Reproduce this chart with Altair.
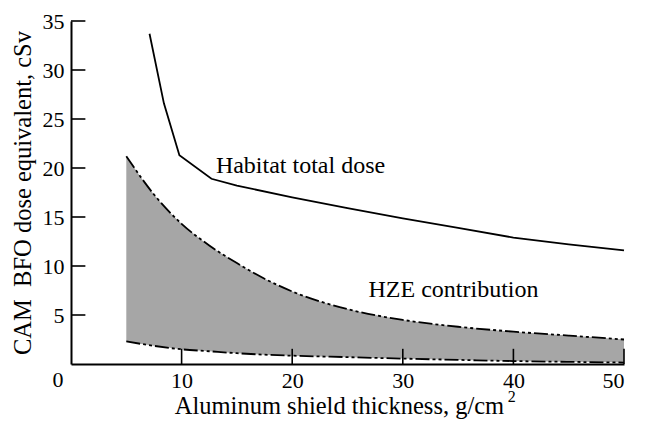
import altair as alt
import pandas as pd

# Habitat total dose curve
habitat_x = [7.1, 8.4, 9.8, 12.7, 15, 20, 25, 30, 35, 40, 45, 50]
habitat_y = [33.7, 26.6, 21.3, 18.9, 18.2, 17.0, 15.9, 14.85, 13.9, 12.9, 12.2, 11.6]

# HZE contribution band
hze_x = [5, 7.5, 10, 12.5, 15, 17.5, 20, 25, 30, 35, 40, 45, 50]
hze_upper = [21.2, 17.3, 14.3, 12.1, 10.3, 8.7, 7.4, 5.6, 4.5, 3.8, 3.3, 2.9, 2.5]
hze_lower = [2.3, 1.85, 1.5, 1.3, 1.1, 0.95, 0.85, 0.7, 0.55, 0.42, 0.3, 0.22, 0.15]

x_ticks = [10, 20, 30, 40, 50]
y_ticks = [5, 10, 15, 20, 25, 30, 35]

labels_text = ["Habitat total dose", "HZE contribution"]
labels_x = [13.1, 26.9]
labels_y = [19.5, 6.8]

FONT = "Liberation Serif"

df_h = pd.DataFrame({"x": habitat_x, "y": habitat_y})
df_z = pd.DataFrame({"x": hze_x, "upper": hze_upper, "lower": hze_lower})
df_xt = pd.DataFrame({"x": x_ticks})
df_yt = pd.DataFrame({"y": y_ticks})
df_lab = pd.DataFrame({"text": labels_text, "x": labels_x, "y": labels_y})

xs = alt.Scale(domain=[0, 50], nice=False, zero=False)
ys = alt.Scale(domain=[0, 35], nice=False)

xaxis = alt.Axis(values=x_ticks, tickSize=0, domainColor="black", domainWidth=2,
                 labelFont=FONT, labelFontSize=22, labelColor="black", labelPadding=6,
                 title="Aluminum shield thickness, g/cm", titleFont=FONT, titleFontSize=24.5,
                 titleFontWeight="normal", titleColor="black", titlePadding=3,
                 titleX=268, titleAlign="center", grid=False)
yaxis = alt.Axis(values=y_ticks, tickSize=0, domainColor="black", domainWidth=2,
                 labelFont=FONT, labelFontSize=22, labelColor="black", labelPadding=7,
                 title="CAM\u00a0 BFO dose equivalent, cSv", titleFont=FONT, titleFontSize=24.5,
                 titleFontWeight="normal", titleColor="black", titlePadding=7, grid=False)

area = alt.Chart(df_z).mark_area(color="#a6a6a6", interpolate="monotone").encode(
    x=alt.X("x:Q", scale=xs, axis=xaxis),
    y=alt.Y("upper:Q", scale=ys, axis=yaxis),
    y2="lower:Q",
)

dash = [14, 3, 3, 3, 3, 3]
upper_line = alt.Chart(df_z).mark_line(color="black", strokeWidth=1.8, strokeDash=dash,
                                       interpolate="monotone").encode(
    x=alt.X("x:Q", scale=xs), y=alt.Y("upper:Q", scale=ys))
lower_line = alt.Chart(df_z).mark_line(color="black", strokeWidth=1.8, strokeDash=dash,
                                       interpolate="monotone").encode(
    x=alt.X("x:Q", scale=xs), y=alt.Y("lower:Q", scale=ys))

habitat = alt.Chart(df_h).mark_line(color="black", strokeWidth=1.8).encode(
    x=alt.X("x:Q", scale=xs), y=alt.Y("y:Q", scale=ys))

xt = alt.Chart(df_xt).mark_rule(color="black", strokeWidth=1.6).encode(
    x=alt.X("x:Q", scale=xs), y=alt.datum(0), y2=alt.datum(1.55))
yt = alt.Chart(df_yt).mark_rule(color="black", strokeWidth=1.6).encode(
    y=alt.Y("y:Q", scale=ys), x=alt.datum(0), x2=alt.datum(1.3))

labels = alt.Chart(df_lab).mark_text(font=FONT, fontSize=24, align="left",
                                      baseline="alphabetic", color="black").encode(
    x=alt.X("x:Q", scale=xs), y=alt.Y("y:Q", scale=ys), text="text:N")

zero = alt.Chart(pd.DataFrame({"t": ["0"]})).mark_text(
    font=FONT, fontSize=22, align="center", baseline="top", color="black", dx=-13, dy=6
).encode(x=alt.datum(0), y=alt.datum(0), text="t:N")

sup = alt.Chart(pd.DataFrame({"t": ["2"]})).mark_text(
    font=FONT, fontSize=16, align="left", baseline="alphabetic", color="black", dy=38
).encode(x=alt.datum(39.5), y=alt.datum(0), text="t:N")

chart = alt.layer(area, upper_line, lower_line, habitat, xt, yt, labels, zero, sup).properties(
    width=553, height=343, autosize="none",
    padding={"left": 63, "top": 13, "right": 14, "bottom": 56},
).configure_view(stroke=None)

chart.save("out.html", embed_options={"renderer": "svg", "actions": False})
